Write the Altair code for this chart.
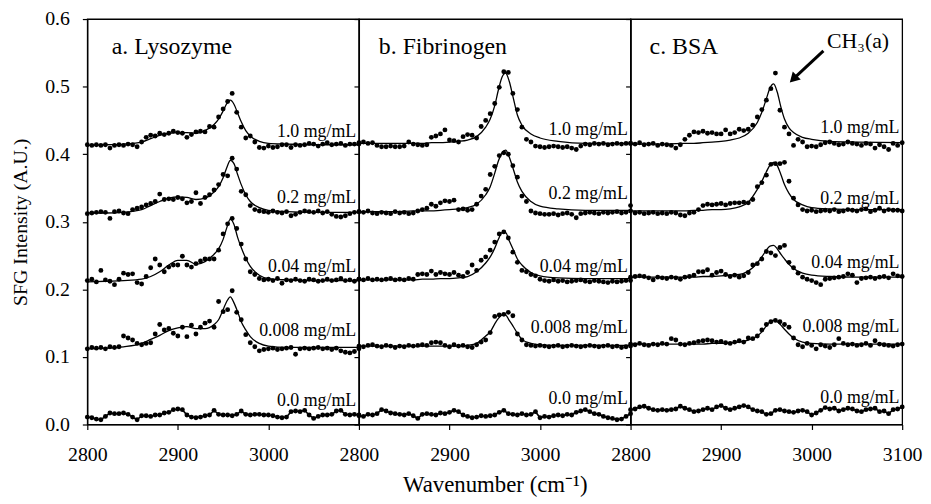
import altair as alt
import pandas as pd

# ---------------- data (SFG intensity in units of 0.001 A.U.) ----------------
WAVENUMBER = list(range(2800, 3101, 5))
FIT_WAVENUMBER = [2800, 2820, 2840, 2860, 2870, 2880, 2890, 2900, 2910, 2920,
                  2930, 2940, 2945, 2950, 2954, 2958, 2962, 2966, 2970, 2975,
                  2980, 2990, 3000, 3020, 3050, 3100]
CONCENTRATIONS = ["1.0 mg/mL", "0.2 mg/mL", "0.04 mg/mL", "0.008 mg/mL", "0.0 mg/mL"]
PANEL_TITLES = ["a. Lysozyme", "b. Fibrinogen", "c. BSA"]

# a. Lysozyme
LYS_1_0 = [414, 413, 414, 413, 414, 409, 413, 414, 413, 415,
           414, 411, 418, 425, 428, 427, 431, 429, 431, 434,
           432, 431, 425, 429, 433, 434, 433, 441, 440, 455,
           467, 478, 490, 462, 440, 424, 427, 418, 410, 409,
           412, 410, 411, 414, 414, 410, 414, 413, 414, 416,
           415, 412, 415, 417, 414, 415, 416, 413, 415, 415,
           415]
LYS_0_2 = [312, 313, 314, 315, 314, 305, 315, 316, 313, 312,
           318, 320, 322, 325, 327, 330, 341, 333, 334, 333,
           336, 334, 328, 330, 343, 327, 336, 340, 347, 355,
           370, 368, 394, 378, 345, 340, 324, 318, 316, 315,
           314, 316, 314, 313, 315, 309, 311, 314, 316, 315,
           314, 316, 313, 315, 311, 308, 307, 309, 312, 314,
           315]
LYS_0_04 = [213, 215, 211, 228, 214, 212, 207, 215, 224, 222,
            223, 210, 208, 219, 232, 245, 236, 226, 233, 236,
            236, 249, 236, 233, 238, 242, 245, 245, 245, 258,
            282, 297, 305, 290, 267, 245, 226, 222, 216, 214,
            215, 213, 216, 209, 214, 213, 215, 213, 212, 215,
            214, 212, 213, 215, 213, 214, 216, 213, 214, 212,
            215]
LYS_0_008 = [112, 114, 113, 114, 112, 115, 114, 115, 131, 128,
             125, 120, 118, 120, 121, 134, 148, 140, 142, 135,
             131, 144, 130, 147, 134, 144, 150, 153, 144, 182,
             167, 170, 198, 166, 155, 133, 121, 115, 109, 111,
             112, 113, 111, 112, 113, 114, 104, 112, 113, 112,
             113, 114, 112, 113, 111, 113, 109, 107, 106, 108,
             112]
LYS_0_0 = [11, 10, 8, 7, 12, 17, 16, 16, 17, 15,
           11, 7, 13, 13, 12, 14, 14, 17, 18, 22,
           23, 22, 14, 11, 10, 11, 13, 14, 21, 15,
           14, 14, 13, 15, 20, 15, 14, 15, 15, 14,
           14, 13, 11, 10, 11, 19, 20, 19, 21, 14,
           9, 12, 14, 14, 15, 20, 21, 15, 14, 15,
           14]
LYS_FIT_1_0 = [413, 414, 415, 418, 423, 428, 431, 432, 432, 431,
               435, 444, 452, 464, 475, 480, 474, 461, 448, 435,
               427, 419, 416, 415, 414, 414]
LYS_FIT_0_2 = [313, 313, 314, 318, 324, 330, 335, 337, 336, 333,
               335, 344, 352, 365, 380, 391, 386, 370, 355, 340,
               330, 321, 317, 315, 314, 314]
LYS_FIT_0_04 = [211, 212, 213, 215, 219, 226, 236, 243, 243, 237,
                241, 252, 260, 274, 291, 304, 296, 277, 262, 246,
                234, 221, 216, 214, 213, 213]
LYS_FIT_0_008 = [112, 113, 115, 120, 126, 132, 139, 143, 145, 142,
                 142, 148, 155, 170, 182, 189, 180, 167, 152, 140,
                 130, 120, 116, 114, 114, 114]

# b. Fibrinogen
FIB_1_0 = [417, 418, 416, 417, 413, 411, 411, 412, 411, 411,
           412, 418, 415, 414, 413, 414, 425, 427, 430, 436,
           421, 420, 418, 426, 429, 428, 424, 441, 450, 460,
           475, 499, 522, 521, 490, 466, 440, 422, 418, 412,
           411, 410, 411, 412, 411, 410, 411, 409, 407, 412,
           415, 414, 416, 415, 416, 414, 415, 416, 415, 416,
           416]
FIB_0_2 = [315, 314, 316, 313, 312, 314, 313, 312, 315, 313,
           314, 312, 313, 316, 318, 320, 326, 323, 328, 331,
           330, 332, 318, 319, 317, 318, 326, 338, 348, 370,
           382, 398, 402, 400, 383, 366, 338, 330, 316, 313,
           312, 311, 311, 312, 310, 312, 313, 311, 306, 312,
           313, 314, 313, 312, 314, 313, 314, 315, 313, 314,
           316]
FIB_0_04 = [215, 214, 216, 214, 215, 214, 215, 216, 214, 215,
            214, 216, 215, 222, 223, 222, 227, 222, 225, 223,
            222, 225, 221, 219, 225, 236, 228, 243, 248, 258,
            270, 282, 285, 276, 255, 240, 228, 226, 222, 220,
            215, 213, 212, 214, 212, 213, 211, 212, 213, 214,
            212, 211, 213, 212, 211, 210, 212, 211, 212, 213,
            213]
FIB_0_008 = [116, 115, 117, 118, 116, 115, 117, 116, 114, 116,
             115, 117, 116, 117, 118, 117, 121, 122, 121, 117,
             115, 118, 116, 117, 115, 114, 118, 122, 125, 136,
             160, 162, 163, 166, 161, 134, 125, 118, 117, 116,
             117, 116, 115, 116, 117, 115, 116, 117, 116, 115,
             116, 117, 116, 115, 116, 117, 115, 116, 114, 115,
             116]
FIB_0_0 = [13, 12, 15, 14, 16, 22, 20, 17, 16, 15,
           14, 16, 13, 9, 15, 16, 15, 14, 17, 16,
           18, 21, 19, 14, 12, 10, 11, 13, 12, 13,
           14, 18, 21, 16, 15, 14, 16, 14, 15, 19,
           10, 12, 11, 13, 14, 13, 15, 14, 18, 20,
           22, 19, 16, 15, 12, 10, 9, 7, 8, 12,
           16]
FIB_FIT_1_0 = [416, 416, 416, 416, 416, 417, 417, 418, 419, 421,
               426, 440, 452, 472, 495, 514, 520, 508, 486, 458,
               443, 430, 424, 419, 416, 416]
FIB_FIT_0_2 = [315, 315, 315, 316, 316, 316, 317, 318, 319, 321,
               326, 340, 352, 372, 390, 402, 406, 396, 380, 359,
               345, 330, 323, 319, 317, 317]
FIB_FIT_0_04 = [214, 214, 214, 214, 215, 215, 216, 216, 217, 219,
                226, 239, 248, 261, 274, 284, 284, 272, 260, 245,
                236, 225, 220, 217, 216, 216]
FIB_FIT_0_008 = [116, 116, 116, 116, 116, 116, 116, 116, 116, 117,
                 120, 131, 137, 149, 157, 162, 162, 154, 146, 135,
                 126, 120, 118, 117, 117, 117]

# c. BSA
BSA_1_0 = [416, 415, 417, 414, 415, 416, 413, 415, 414, 413,
           409, 414, 422, 428, 433, 432, 434, 431, 432, 430,
           430, 436, 430, 432, 437, 435, 437, 443, 455, 466,
           480, 497, 520, 465, 440, 430, 413, 422, 418, 411,
           412, 411, 414, 417, 418, 416, 414, 415, 418, 416,
           415, 413, 416, 415, 409, 414, 411, 407, 416, 413,
           417]
BSA_0_2 = [324, 313, 314, 312, 313, 314, 312, 313, 312, 314,
           313, 310, 309, 313, 314, 318, 324, 326, 325, 326,
           327, 325, 327, 328, 328, 329, 328, 333, 352, 358,
           369, 385, 386, 386, 388, 360, 335, 325, 318, 316,
           317, 315, 316, 317, 316, 318, 315, 316, 318, 317,
           316, 318, 319, 315, 317, 320, 316, 318, 317, 317,
           316]
BSA_0_04 = [218, 219, 220, 219, 217, 214, 218, 217, 216, 218,
            217, 215, 218, 219, 221, 226, 226, 229, 221, 225,
            227, 222, 219, 221, 218, 220, 225, 236, 238, 245,
            256, 254, 250, 262, 265, 240, 232, 224, 218, 215,
            213, 210, 207, 215, 216, 217, 218, 219, 223, 221,
            210, 216, 217, 218, 216, 218, 219, 217, 223, 220,
            219]
BSA_0_008 = [119, 118, 120, 118, 117, 119, 118, 120, 119, 127,
             125, 119, 118, 120, 121, 123, 124, 125, 124, 122,
             123, 121, 120, 122, 124, 122, 128, 127, 131, 140,
             148, 152, 154, 152, 148, 144, 128, 118, 115, 120,
             117, 112, 118, 116, 114, 118, 127, 120, 118, 119,
             117, 118, 120, 117, 124, 119, 118, 117, 116, 118,
             119]
BSA_0_0 = [22, 23, 26, 27, 24, 22, 21, 22, 21, 22,
           23, 27, 24, 22, 19, 20, 22, 24, 22, 26,
           28, 24, 22, 24, 26, 28, 26, 22, 20, 19,
           15, 16, 21, 22, 20, 19, 18, 20, 21, 19,
           14, 17, 21, 25, 23, 24, 20, 22, 24, 23,
           20, 19, 22, 23, 24, 19, 20, 16, 22, 23,
           26]
BSA_FIT_1_0 = [415, 415, 415, 416, 416, 417, 418, 419, 421, 424,
               431, 447, 462, 482, 498, 504, 492, 470, 452, 439,
               432, 425, 422, 419, 418, 417]
BSA_FIT_0_2 = [316, 316, 316, 316, 317, 317, 318, 318, 319, 322,
               329, 348, 360, 374, 384, 388, 383, 370, 355, 342,
               333, 325, 321, 319, 318, 318]
BSA_FIT_0_04 = [218, 218, 218, 218, 218, 219, 219, 220, 221, 222,
                227, 239, 248, 258, 264, 265, 260, 252, 245, 237,
                231, 224, 221, 219, 218, 218]
BSA_FIT_0_008 = [119, 119, 119, 119, 119, 119, 120, 120, 121, 122,
                 125, 131, 137, 146, 152, 154, 152, 147, 141, 134,
                 128, 122, 120, 119, 119, 119]

# label anchors (A.U.) for concentration labels, per panel
LABEL_Y = [[0.426, 0.328, 0.226, 0.131, 0.028],
           [0.429, 0.334, 0.226, 0.135, 0.031],
           [0.431, 0.326, 0.232, 0.137, 0.032]]
LABEL_X = 3097
TITLE_X = [2827, 2822, 2821]
TITLE_Y = 0.558

# annotation in panel c
ANNOT_TEXT = "CH\u2083(a)"
ANNOT_POS = (3017, 0.568)
ARROW_FROM = (3013, 0.553)
ARROW_TO = (2981, 0.513)

PANELS = [
    dict(data=[LYS_1_0, LYS_0_2, LYS_0_04, LYS_0_008, LYS_0_0],
         fits=[LYS_FIT_1_0, LYS_FIT_0_2, LYS_FIT_0_04, LYS_FIT_0_008]),
    dict(data=[FIB_1_0, FIB_0_2, FIB_0_04, FIB_0_008, FIB_0_0],
         fits=[FIB_FIT_1_0, FIB_FIT_0_2, FIB_FIT_0_04, FIB_FIT_0_008]),
    dict(data=[BSA_1_0, BSA_0_2, BSA_0_04, BSA_0_008, BSA_0_0],
         fits=[BSA_FIT_1_0, BSA_FIT_0_2, BSA_FIT_0_04, BSA_FIT_0_008]),
]

FONT = "Liberation Serif"
PW, PH = 274, 409
Y_TICKS = [0.0, 0.1, 0.2, 0.3, 0.4, 0.5, 0.6]


def make_panel(i):
    p = PANELS[i]
    pts_rows, fit_rows = [], []
    for c, series in zip(CONCENTRATIONS, p["data"]):
        for x, v in zip(WAVENUMBER, series):
            pts_rows.append({"x": x, "y": v / 1000.0, "series": c})
    for c, series in zip(CONCENTRATIONS, p["fits"]):
        for x, v in zip(FIT_WAVENUMBER, series):
            fit_rows.append({"x": x, "y": v / 1000.0, "series": c})
    df_pts = pd.DataFrame(pts_rows)
    df_fit = pd.DataFrame(fit_rows)
    df_zero = df_pts[df_pts.series == "0.0 mg/mL"]
    df_lab = pd.DataFrame({"x": [LABEL_X] * 5, "y": LABEL_Y[i], "label": CONCENTRATIONS})
    df_title = pd.DataFrame({"x": [TITLE_X[i]], "y": [TITLE_Y], "label": [PANEL_TITLES[i]]})

    xvals = [2800, 2900, 3000, 3100] if i == 2 else [2800, 2900, 3000]
    x_axis = alt.Axis(values=xvals, format="d", labelFontSize=20, tickSize=5,
                      labelPadding=15, labelFlush=False, grid=False,
                      title="Wavenumber (cm\u207b\u00b9)" if i == 1 else None,
                      titleFontSize=23, titlePadding=10, titleFontWeight="normal")
    if i == 0:
        y_axis = alt.Axis(values=Y_TICKS, format=".1f", labelFontSize=20, tickSize=5,
                          labelPadding=13, grid=False, title="SFG Intensity (A.U.)",
                          titleFontSize=20, titlePadding=14, titleFontWeight="normal")
    else:
        y_axis = alt.Axis(values=Y_TICKS, labels=False, tickSize=5, grid=False, title=None)

    X = alt.X("x:Q", scale=alt.Scale(domain=[2800, 3100], nice=False, zero=False), axis=x_axis)
    Y = alt.Y("y:Q", scale=alt.Scale(domain=[0, 0.6], nice=False, zero=False), axis=y_axis)

    pts = alt.Chart(df_pts).mark_circle(size=24, color="black", opacity=1).encode(x=X, y=Y)
    fit = alt.Chart(df_fit).mark_line(color="black", strokeWidth=1.3, interpolate="monotone").encode(
        x=X, y=Y, detail="series:N")
    zero = alt.Chart(df_zero).mark_line(color="black", strokeWidth=1.6).encode(x=X, y=Y)
    labels = alt.Chart(df_lab).mark_text(align="right", baseline="alphabetic", font=FONT,
                                         fontSize=18, color="black").encode(x=X, y=Y, text="label:N")
    title = alt.Chart(df_title).mark_text(align="left", baseline="middle", font=FONT,
                                          fontSize=24, color="black").encode(x=X, y=Y, text="label:N")
    layers = [fit, zero, pts, labels, title]
    if i == 2:
        df_annot = pd.DataFrame({"x": [ANNOT_POS[0]], "y": [ANNOT_POS[1]], "label": [ANNOT_TEXT]})
        df_arrow = pd.DataFrame({"x": [ARROW_FROM[0]], "y": [ARROW_FROM[1]],
                                 "x2": [ARROW_TO[0]], "y2": [ARROW_TO[1]]})
        df_head = pd.DataFrame({"x": [ARROW_TO[0]], "y": [ARROW_TO[1]]})
        annot = alt.Chart(df_annot).mark_text(align="left", baseline="middle", font=FONT,
                                              fontSize=22, color="black").encode(x=X, y=Y, text="label:N")
        arrow = alt.Chart(df_arrow).mark_rule(color="black", strokeWidth=3).encode(
            x=X, y=Y, x2="x2:Q", y2="y2:Q")
        head = alt.Chart(df_head).mark_point(shape="triangle", angle=225, size=130, filled=True,
                                             color="black", opacity=1).encode(x=X, y=Y)
        layers += [annot, arrow, head]
    return alt.layer(*layers).properties(width=PW, height=PH)


chart = alt.hconcat(make_panel(0), make_panel(1), make_panel(2), spacing=0, bounds="flush").properties(
    padding={"left": 2, "top": -2, "right": 0, "bottom": 0}
).configure_view(stroke="black", strokeWidth=1.3).configure_axis(
    domainColor="black", tickColor="black", labelColor="black", titleColor="black",
    labelFont=FONT, titleFont=FONT, domainWidth=1.2, tickWidth=1.2
)

chart.save("out.html", embed_options={"renderer": "svg", "actions": False})
